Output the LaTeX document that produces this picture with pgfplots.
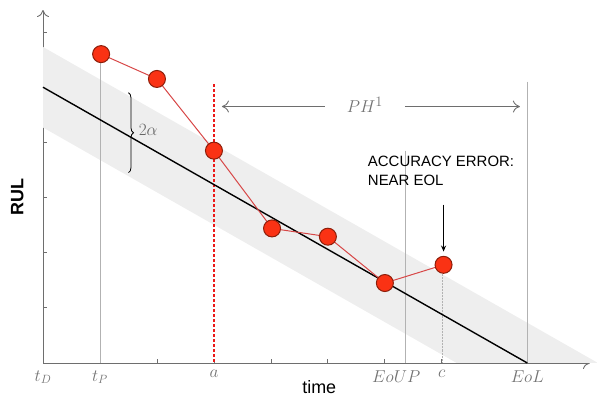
\documentclass[border=0pt]{standalone}
\usepackage{pgfplots}
\pgfplotsset{compat=1.18}
\usepackage{fontspec}
\setmainfont{Liberation Sans}
\usetikzlibrary{arrows.meta,decorations.pathreplacing}
\definecolor{ptfill}{RGB}{250,50,20}
\definecolor{ptdraw}{RGB}{140,30,10}
\definecolor{ptline}{RGB}{215,70,70}
\definecolor{axgray}{RGB}{110,110,110}
\definecolor{band}{RGB}{238,238,238}
\definecolor{dashred}{RGB}{235,25,25}
\begin{document}
\begin{tikzpicture}
\begin{axis}[
  scale only axis, width=547bp, height=353bp,
  xmin=0, xmax=9.6, ymin=0, ymax=6.4,
  axis lines=left,
  axis line style={draw=axgray, line width=0.9pt, -{To[length=7bp,width=12bp]}},
  xtick={0,...,9}, xticklabels={},
  ytick={0,...,6}, yticklabels={},
  tick align=inside, major tick length=3.5bp,
  tick style={axgray, line width=0.8pt},
  extra x ticks={0,1,3,6.2,7,8.5},
  extra x tick labels={$t_D$,$t_P$,$a$,$EoUP$,$c$,$EoL$},
  extra x tick style={major tick length=0pt, tick label style={text=gray!90!black, font=\fontsize{18}{20}\selectfont, yshift=-4bp}},
  xlabel={time}, ylabel={\bfseries RUL},
  xlabel style={font=\fontsize{18}{20}\selectfont, at={(axis description cs:0.505,0)}, anchor=north, yshift=-14bp},
  ylabel style={font=\fontsize{18}{20}\selectfont, at={(axis description cs:0,0.47)}, anchor=south, yshift=16bp},
  clip=false,
]
% uncertainty band
\addplot[fill=band, draw=none] coordinates {(0,5.73) (9.74,0) (7.26,0) (0,4.27)} -- cycle;
% vertical guide lines
\addplot[gray!60, line width=0.5pt] coordinates {(1,5.6) (1,0)};
\addplot[gray!60, line width=0.5pt] coordinates {(6.35,3.85) (6.35,0)};
\addplot[gray!60, line width=0.5pt, densely dotted] coordinates {(7,1.78) (7,0)};
\addplot[gray!60, line width=0.5pt] coordinates {(8.5,5.1) (8.5,0)};
% red dashed line at a
\addplot[draw=dashred, dash pattern=on 3bp off 2bp, line width=1.3pt, no marks] coordinates {(3,5.05) (3,0)};
% true RUL line
\addplot[black, line width=1.4pt] coordinates {(0,5.0) (8.5,0)};
% predictions
\addplot[ptline, line width=1pt, mark=*, mark size=8.5bp,
  mark options={fill=ptfill, draw=ptdraw, line width=1pt}] coordinates {
  (1.02,5.60) (2.0,5.15) (3.0,3.85) (4.02,2.44) (5.0,2.29) (6.0,1.45) (7.03,1.78)
};
% PH arrow
\draw[axgray, line width=0.9pt, {To[length=7bp,width=12bp]}-] (axis cs:3.14,4.65) -- (axis cs:4.95,4.65);
\draw[axgray, line width=0.9pt, -{To[length=7bp,width=12bp]}] (axis cs:6.35,4.65) -- (axis cs:8.37,4.65);
\node[text=gray!90!black, font=\fontsize{19}{21}\selectfont] at (axis cs:5.65,4.68) {$PH^1$};
% 2 alpha brace
\draw[black, line width=0.8pt, decorate, decoration={brace, amplitude=5bp}] (axis cs:1.5,4.9) -- (axis cs:1.5,3.45);
\node[text=gray!80!black, font=\fontsize{19}{21}\selectfont, anchor=west] at (axis cs:1.62,4.22) {$2\alpha$};
% annotation
\node[anchor=north west, align=left, font=\fontsize{15}{19}\selectfont, inner sep=0pt] at (axis cs:5.7,3.75) {ACCURACY ERROR:\\NEAR EOL};
\draw[black, line width=1pt, -{Stealth[length=6bp,width=5bp]}] (axis cs:7.03,2.87) -- (axis cs:7.03,2.02);
\end{axis}
\pgfresetboundingbox
\path[use as bounding box] (-43bp,-40bp) rectangle (554bp,363bp);
\end{tikzpicture}
\end{document}
